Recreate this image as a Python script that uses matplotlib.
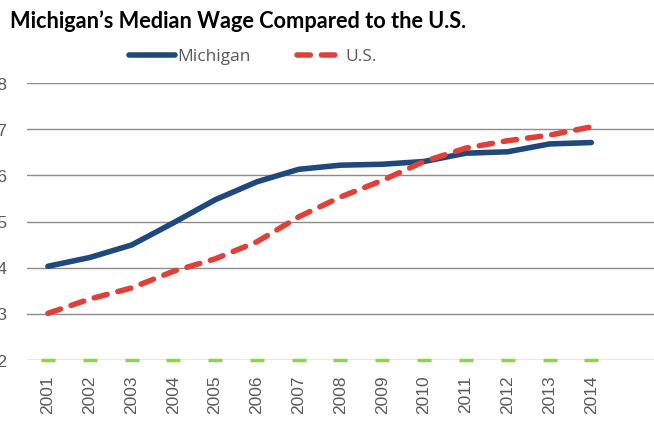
import matplotlib
matplotlib.use("Agg")
import matplotlib.pyplot as plt
from matplotlib.lines import Line2D

years = ["2001", "2002", "2003", "2004", "2005", "2006", "2007",
         "2008", "2009", "2010", "2011", "2012", "2013", "2014"]
michigan = [14.03, 14.22, 14.49, 14.97, 15.47, 15.86, 16.13,
            16.22, 16.24, 16.30, 16.48, 16.51, 16.68, 16.71]
us = [13.01, 13.32, 13.56, 13.92, 14.19, 14.56, 15.10,
      15.53, 15.89, 16.30, 16.59, 16.75, 16.87, 17.05]
baseline = [12.0] * len(years)
yticks = [12, 13, 14, 15, 16, 17, 18]
ytick_labels = ["$12", "$13", "$14", "$15", "$16", "$17", "$18"]

W, H = 654, 423
fig = plt.figure(figsize=(W / 100, H / 100), dpi=100)
ax = fig.add_axes([27 / W, 1 - 360 / H, (654 - 27) / W, (360 - 83) / H])

x = list(range(len(years)))
blue = "#1F497D"
red = "#E0403A"
green = "#92D050"
gray = "#595959"
LW = 4.0
DASH = (0, (2.4, 2.0))

ax.plot(x, michigan, color=blue, lw=LW, solid_capstyle="round", zorder=3)
ax.plot(x, us, color=red, lw=LW, dash_capstyle="round",
        linestyle=DASH, zorder=4)
ax.plot(x, baseline, linestyle="none", marker="_", color=green,
        markersize=9.5, markeredgewidth=2.5, zorder=2, clip_on=False)

ax.set_xlim(-0.5, 14.5)
ax.set_ylim(12, 18)
ax.set_yticks(yticks)
ax.set_yticklabels(ytick_labels)
ax.set_xticks(x)
ax.set_xticklabels(years, rotation=90)
for s in ax.spines.values():
    s.set_visible(False)
ax.grid(axis="y", color="#8C8C8C", lw=1.0)
ax.set_axisbelow(True)
ax.tick_params(axis="both", length=0, colors=gray, labelsize=12.5)
ax.tick_params(axis="y", pad=14)
ax.tick_params(axis="x", pad=11)
for lab in ax.get_xticklabels() + ax.get_yticklabels():
    lab.set_fontfamily("Liberation Sans")

fig.text(10 / W, 1 - 28 / H, "Michigan\u2019s Median Wage Compared to the U.S.",
         fontsize=15.7, fontweight="bold", family="Lato",
         color="black", ha="left", va="baseline")

handles = [
    Line2D([], [], color=blue, lw=LW, solid_capstyle="round"),
    Line2D([], [], color=red, lw=LW, dash_capstyle="round", linestyle=DASH),
]
fig.legend(handles, ["Michigan", "U.S."], loc="center", bbox_to_anchor=(253 / W, 1 - 57 / H),
           ncol=2, frameon=False, handlelength=2.6, handletextpad=0.15, columnspacing=2.7,
           prop={"family": "Open Sans", "size": 12.5}, labelcolor=gray)

fig.savefig("out.png", dpi=100)
